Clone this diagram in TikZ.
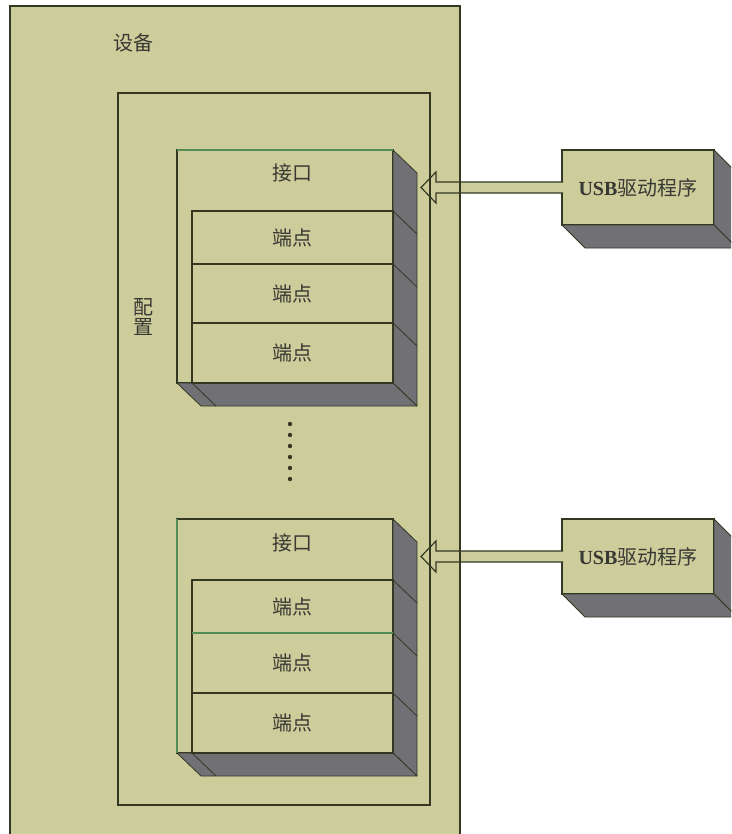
\documentclass[tikz,border=0pt]{standalone}
\usepackage{fontspec}
\setmainfont{Liberation Serif}
\newfontfamily\cjk{Noto Sans CJK SC}
\usetikzlibrary{calc}

\definecolor{khaki}{RGB}{205,205,155}
\definecolor{edge}{RGB}{52,56,34}
\definecolor{shade}{RGB}{112,112,117}
\definecolor{ink}{RGB}{56,56,52}
\definecolor{rim}{RGB}{84,140,84}

\begin{document}
\begin{tikzpicture}[x=1pt,y=-1pt,
  box/.style={draw=edge, fill=khaki, line width=1.1pt, anchor=north west, inner sep=0pt, outer sep=0pt},
  side/.style={draw=edge, fill=shade, line width=0.8pt, line join=round},
  txt/.style={font=\cjk\fontsize{20}{20}\selectfont, text=ink},
  hollow/.style={draw=edge, fill=khaki, line width=1.2pt, line join=miter}]

\useasboundingbox (0,0) rectangle (731,834);
\clip (0,0) rectangle (731,834);

% device with its configuration
\node[box, minimum width=450, minimum height=840] (dev) at (10,6) {};
\node[box, minimum width=312, minimum height=712] (cfg) at (118,93) {};
\node[txt] (devlbl) at (133,43) {设备};
\node[txt, align=center] (cfglbl) at (143,317) {配\\置};

% first interface and its endpoints
\node[box, minimum width=216, minimum height=233] (if1) at (177,150) {};
\draw[side] (if1.north east) -- ++(24,23) -- ++(0,233) -- (if1.south east) -- cycle;
\draw[side] (if1.south west) -- (if1.south east) -- ++(24,23) -- ++(-216,0) -- cycle;
\node[box, minimum width=201, minimum height=53] (if1e1) at (192,211) {};
\node[box, minimum width=201, minimum height=59] (if1e2) at (192,264) {};
\node[box, minimum width=201, minimum height=60] (if1e3) at (192,323) {};
\foreach \n in {if1e1,if1e2,if1e3}
  \draw[edge, line width=0.8pt] (\n.north east) -- ++(24,23);
\draw[edge, line width=0.8pt] (if1e3.south west) -- ++(24,23);
\draw[rim, line width=1.1pt] (if1.north west) -- (if1.north east);
\node[txt] (if1lbl) at (292,173) {接口};
\node[txt] at (if1e1) {端点};
\node[txt] at (if1e2) {端点};
\node[txt] at (if1e3) {端点};

% more interfaces in between
\foreach \k in {0,...,5}
  \fill[edge] (290,424+11*\k) circle (2.2);

% last interface and its endpoints
\node[box, minimum width=216, minimum height=234] (if2) at (177,519) {};
\draw[side] (if2.north east) -- ++(24,23) -- ++(0,234) -- (if2.south east) -- cycle;
\draw[side] (if2.south west) -- (if2.south east) -- ++(24,23) -- ++(-216,0) -- cycle;
\node[box, minimum width=201, minimum height=53] (if2e1) at (192,580) {};
\node[box, minimum width=201, minimum height=60] (if2e2) at (192,633) {};
\node[box, minimum width=201, minimum height=60] (if2e3) at (192,693) {};
\foreach \n in {if2e1,if2e2,if2e3}
  \draw[edge, line width=0.8pt] (\n.north east) -- ++(24,23);
\draw[edge, line width=0.8pt] (if2e3.south west) -- ++(24,23);
\draw[rim, line width=1.1pt] (if2.north west) -- (if2.south west);
\draw[rim, line width=1.1pt] (if2e2.north west) -- (if2e2.north east);
\node[txt] (if2lbl) at (292,543) {接口};
\node[txt] at (if2e1) {端点};
\node[txt] at (if2e2) {端点};
\node[txt] at (if2e3) {端点};

% drivers
\node[box, minimum width=152, minimum height=75] (usb1) at (562,150) {};
\node[box, minimum width=152, minimum height=75] (usb2) at (562,519) {};
\coordinate (tip1) at (421,187.5);
\coordinate (tip2) at (421,556.5);
\foreach \u/\t in {usb1/tip1,usb2/tip2} {
  \draw[hollow] ($(\u.west)+(1,-5.5)$) -- ($(\t)+(15,-5.5)$) -- ($(\t)+(15,-15.5)$)
    -- (\t) -- ($(\t)+(15,15.5)$) -- ($(\t)+(15,5.5)$) -- ($(\u.west)+(1,5.5)$);
  \draw[side] (\u.north east) -- ++(23,23) -- ++(0,75) -- (\u.south east) -- cycle;
  \draw[side] (\u.south west) -- (\u.south east) -- ++(23,23) -- ++(-152,0) -- cycle;
  \node[txt, font=\cjk\fontsize{20}{22}\selectfont] at (\u) {\textbf{\rmfamily USB}驱动程序};
}

% frame edges run over the arrows
\draw[edge, line width=1.1pt] (dev.north west) rectangle (dev.south east);
\draw[edge, line width=1.1pt] (cfg.north west) rectangle (cfg.south east);
\end{tikzpicture}
\end{document}
